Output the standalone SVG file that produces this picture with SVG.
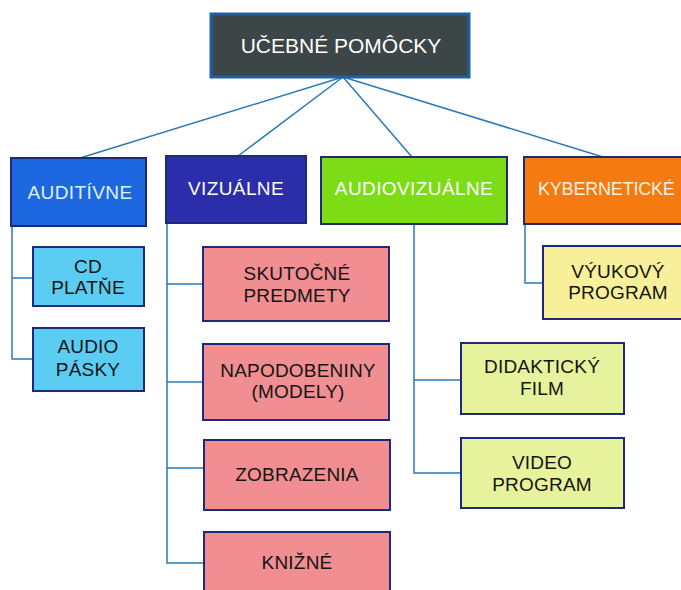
<svg xmlns="http://www.w3.org/2000/svg" width="681" height="590" viewBox="0 0 681 590">
  <style>
    .lbl { font-family: "Liberation Sans", Arial, sans-serif; text-anchor: middle; }
    .cat { font-size: 19px; letter-spacing: 0.4px; }
    .sub { font-size: 19px; fill: #141414; letter-spacing: 0.2px; }
    .box { stroke: #1c2a78; stroke-width: 2; }
    .wire { fill: none; stroke: #2b7ab8; stroke-width: 1.5; }
  </style>
  <rect width="681" height="590" fill="#ffffff"/>

  <!-- connectors -->
  <g id="connectors" class="wire">
    <path d="M343 77 L80 158"/>
    <path d="M343 77 L238 156"/>
    <path d="M343 77 L412 157"/>
    <path d="M343 77 L603 157"/>
    <!-- auditory branch -->
    <path d="M12 226 V359 H33"/>
    <path d="M12 278 H33"/>
    <!-- visual branch -->
    <path d="M167 223 V563 H204"/>
    <path d="M167 284 H203"/>
    <path d="M167 382 H203"/>
    <path d="M167 468 H204"/>
    <!-- audiovisual branch -->
    <path d="M414 224 V473 H461"/>
    <path d="M414 380 H461"/>
    <!-- cybernetic branch -->
    <path d="M525 224 V283 H543"/>
  </g>

  <!-- root -->
  <g id="root">
    <rect x="211" y="14" width="258" height="63" fill="#3c4646" stroke="#1f5fa8" stroke-width="3"/>
    <text class="lbl" x="341" y="53" font-size="21" fill="#ffffff">UČEBNÉ POMÔCKY</text>
  </g>

  <!-- categories -->
  <g id="auditivne">
    <rect class="box" x="11" y="158" width="135" height="68" fill="#1d68e0"/>
    <text class="lbl cat" x="80" y="199" fill="#dff2ff">AUDITÍVNE</text>
  </g>
  <g id="vizualne">
    <rect class="box" x="166" y="156" width="140" height="67" fill="#2b2dab"/>
    <text class="lbl cat" x="236" y="195" fill="#ffffff">VIZUÁLNE</text>
  </g>
  <g id="audiovizualne">
    <rect class="box" x="321" y="157" width="186" height="67" fill="#7cdc16"/>
    <text class="lbl cat" x="414" y="195" fill="#ffffff">AUDIOVIZUÁLNE</text>
  </g>
  <g id="kyberneticke">
    <rect class="box" x="524" y="157" width="170" height="67" fill="#f57a10"/>
    <text class="lbl" x="538" y="195" font-size="18" letter-spacing="-0.2" text-anchor="start" style="text-anchor:start" fill="#fff2e0">KYBERNETICKÉ</text>
  </g>

  <!-- auditory items -->
  <g id="cd-platne">
    <rect class="box" x="33" y="247" width="111" height="59" fill="#5ccdf2"/>
    <text class="lbl sub" x="88" y="273">CD</text>
    <text class="lbl sub" x="88" y="294">PLATŇE</text>
  </g>
  <g id="audio-pasky">
    <rect class="box" x="33" y="328" width="111" height="63" fill="#5ccdf2"/>
    <text class="lbl sub" x="88" y="353">AUDIO</text>
    <text class="lbl sub" x="88" y="376">PÁSKY</text>
  </g>

  <!-- visual items -->
  <g id="skutocne-predmety">
    <rect class="box" x="203" y="247" width="186" height="74" fill="#f08e92"/>
    <text class="lbl sub" x="297" y="280">SKUTOČNÉ</text>
    <text class="lbl sub" x="297" y="302">PREDMETY</text>
  </g>
  <g id="napodobeniny">
    <rect class="box" x="203" y="344" width="186" height="76" fill="#f08e92"/>
    <text class="lbl sub" x="298" y="377">NAPODOBENINY</text>
    <text class="lbl sub" x="298" y="398">(MODELY)</text>
  </g>
  <g id="zobrazenia">
    <rect class="box" x="204" y="440" width="186" height="70" fill="#f08e92"/>
    <text class="lbl sub" x="297" y="481">ZOBRAZENIA</text>
  </g>
  <g id="knizne">
    <rect class="box" x="204" y="532" width="186" height="70" fill="#f08e92"/>
    <text class="lbl sub" x="297" y="569">KNIŽNÉ</text>
  </g>

  <!-- audiovisual items -->
  <g id="didakticky-film">
    <rect class="box" x="461" y="343" width="163" height="71" fill="#e6f29c"/>
    <text class="lbl sub" x="542" y="373">DIDAKTICKÝ</text>
    <text class="lbl sub" x="542" y="395">FILM</text>
  </g>
  <g id="video-program">
    <rect class="box" x="461" y="438" width="163" height="70" fill="#e6f29c"/>
    <text class="lbl sub" x="542" y="469">VIDEO</text>
    <text class="lbl sub" x="542" y="491">PROGRAM</text>
  </g>

  <!-- cybernetic item -->
  <g id="vyukovy-program">
    <rect class="box" x="543" y="246" width="145" height="73" fill="#f8ef9a"/>
    <text class="lbl sub" x="618" y="278">VÝUKOVÝ</text>
    <text class="lbl sub" x="618" y="299">PROGRAM</text>
  </g>
</svg>
